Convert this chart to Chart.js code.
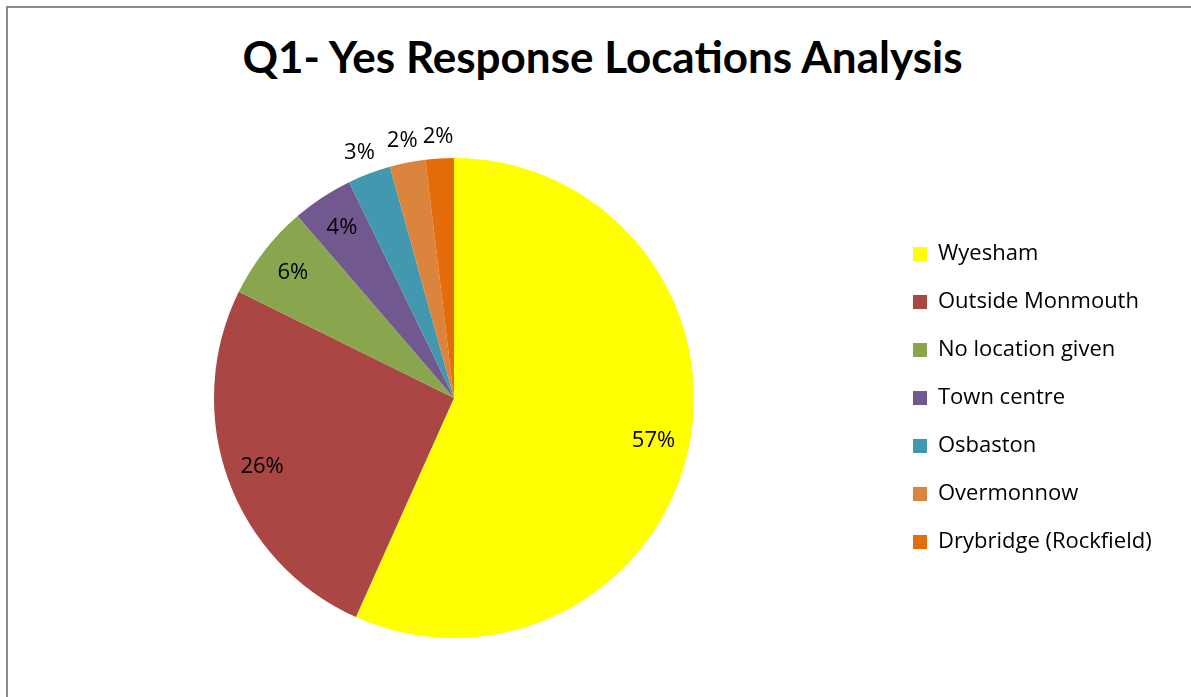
<!DOCTYPE html>
<html lang="en">
<head>
  <meta charset="UTF-8" />
  <title>Q1- Yes Response Locations Analysis</title>
  <script src="https://cdn.jsdelivr.net/npm/chart.js"></script>
  <style>
    body {
      margin: 0;
      background: #fff;
      overflow: hidden;
    }
    .frame {
      position: absolute;
      left: 6px;
      top: 6px;
      width: 1200px;
      height: 720px;
      border: 2px solid #8a8a8a;
    }
    h1 {
      position: absolute;
      left: 0;
      top: 30px;
      width: 1205px;
      margin: 0;
      text-align: center;
      font-family: Lato, sans-serif;
      font-weight: bold;
      font-size: 44px;
      line-height: 1.2;
      color: #000;
    }
    .wrap {
      position: absolute;
      left: 0;
      top: 0;
      width: 1191px;
      height: 697px;
    }
  </style>
</head>
<body>
<div class="frame"></div>
<h1>Q1- Yes Response Locations Analysis</h1>
<div class="wrap">
  <canvas id="pieChart"></canvas>
</div>

<script>
// values (share of responses, in percent)
const locations = ['Wyesham', 'Outside Monmouth', 'No location given', 'Town centre', 'Osbaston', 'Overmonnow', 'Drybridge (Rockfield)'];
const shares = [56.7, 25.6, 6.4, 4.1, 2.9, 2.4, 1.9];
const sliceColors = ['#ffff00', '#aa4643', '#89a54e', '#71588f', '#4198af', '#db843d', '#e46c0a'];

const textFamily = '"Open Sans", sans-serif';
const legendFont = { family: textFamily, size: 22 };
const legendPad = 26;
const legendBox = 14;
const legendLeft = 887; // where the legend block should start (boxes at +padding)

// percentage labels, inside for big slices and outside for small ones
const sliceLabels = {
  id: 'sliceLabels',
  afterDatasetsDraw(chart) {
    const ctx = chart.ctx;
    const meta = chart.getDatasetMeta(0);
    const data = chart.data.datasets[0].data;
    const total = data.reduce((a, b) => a + b, 0);
    ctx.save();
    ctx.font = '22px ' + textFamily;
    ctx.fillStyle = '#000';
    ctx.textAlign = 'center';
    ctx.textBaseline = 'middle';
    meta.data.forEach((arc, i) => {
      const p = arc.getProps(['x', 'y', 'startAngle', 'endAngle', 'outerRadius'], true);
      const mid = (p.startAngle + p.endAngle) / 2;
      const dx = Math.cos(mid), dy = Math.sin(mid);
      const pct = data[i] / total * 100;
      const txt = Math.round(pct) + '%';
      let x, y;
      if (pct >= 3.5) {
        x = p.x + dx * p.outerRadius * 0.85;
        y = p.y + dy * p.outerRadius * 0.85;
      } else {
        const w = ctx.measureText(txt).width;
        const d = p.outerRadius + 12;
        x = p.x + dx * d + dx * w / 2;
        y = p.y + dy * d + dy * 10;
      }
      ctx.fillText(txt, x, y);
    });
    ctx.restore();
  }
};

function drawChart() {
  const chart = new Chart(document.getElementById('pieChart'), {
    type: 'pie',
    data: {
      labels: locations,
      datasets: [{
        data: shares,
        backgroundColor: sliceColors,
        borderWidth: 0
      }]
    },
    options: {
      responsive: true,
      maintainAspectRatio: false,
      animation: false,
      layout: { padding: { top: 158, bottom: 59, left: 21, right: 40 } },
      plugins: {
        legend: {
          position: 'right',
          align: 'center',
          fullSize: false,
          labels: {
            color: '#000',
            font: legendFont,
            boxWidth: legendBox,
            boxHeight: legendBox,
            padding: legendPad
          }
        },
        tooltip: { enabled: false }
      }
    },
    plugins: [sliceLabels]
  });

  // nudge right padding so the legend (and so the pie centre) sit where the original has them
  const diff = chart.legend.left - legendLeft;
  if (Math.abs(diff) > 0.5) {
    chart.options.layout.padding.right = Math.max(0, 40 + diff);
    chart.update();
  }
}

Promise.all([
  document.fonts.load('22px "Open Sans"'),
  document.fonts.load('bold 44px Lato')
]).then(drawChart, drawChart);
</script>
</body>
</html>
